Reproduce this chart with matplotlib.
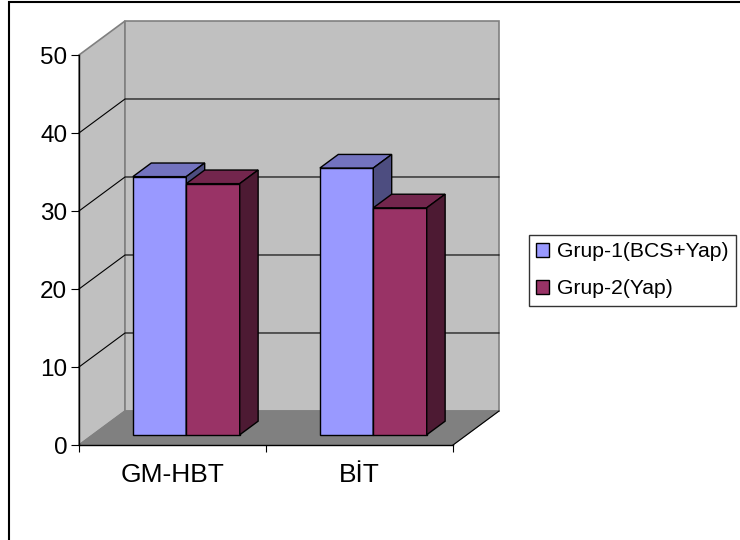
import matplotlib
matplotlib.use("Agg")
import matplotlib.pyplot as plt
from matplotlib.patches import Polygon, Patch, Rectangle

plt.rcParams['font.family'] = ['Liberation Sans', 'DejaVu Sans']

CATEGORIES = ["GM-HBT", "BİT"]
SERIES = ["Grup-1(BCS+Yap)", "Grup-2(Yap)"]
GRUP1 = [33.1, 34.2]
GRUP2 = [32.2, 29.1]
VALUES = [GRUP1, GRUP2]
Y_TICKS = [0, 10, 20, 30, 40, 50]

# face colours: front, top, side
FACES = [("#9999FF", "#7373BF", "#4D4D80"),
         ("#993366", "#73264D", "#4D1A33")]
WALL = "#C0C0C0"
FLOOR = "#808080"

# oblique depth, in data units for a full step back
KX, KY = 0.246, 4.36
BAR_W = 1 / 3.5          # gap width 150%
Z0, Z1 = 0.3, 0.7        # bar depth range
YMAX = 50

def P(x, y, z):
    return (x + z * KX, y + z * KY)

def poly(ax, pts, fc, ec, lw=0.8, zo=1):
    ax.add_patch(Polygon(pts, closed=True, facecolor=fc, edgecolor=ec,
                         linewidth=lw, zorder=zo, clip_on=False,
                         joinstyle='miter'))

fig = plt.figure(figsize=(7.4, 5.4), dpi=100)
ax = fig.add_axes([79/740, 95/540, 374/740, 390/540])
ncat = len(CATEGORIES)
ax.set_xlim(0, ncat)
ax.set_ylim(0, YMAX)
ax.patch.set_visible(False)

# walls and floor
poly(ax, [P(0, 0, 0), P(0, YMAX, 0), P(0, YMAX, 1), P(0, 0, 1)], WALL, FLOOR, 1.2)
poly(ax, [P(0, 0, 1), P(0, YMAX, 1), P(ncat, YMAX, 1), P(ncat, 0, 1)], WALL, FLOOR, 1.2)
poly(ax, [P(0, 0, 0), P(ncat, 0, 0), P(ncat, 0, 1), P(0, 0, 1)], FLOOR, FLOOR, 0.8)
ax.plot(*zip(P(ncat, 0, 0), P(ncat, 0, 1)), color="black", lw=0.8,
        clip_on=False, zorder=1.5)

# gridlines on the back and left walls
for v in Y_TICKS[1:-1]:
    ax.plot(*zip(P(0, v, 0), P(0, v, 1), P(ncat, v, 1)), color="black",
            lw=0.8, clip_on=False, zorder=1.2)

# bars
for i in range(ncat):
    for j, vals in enumerate(VALUES):
        v = vals[i]
        front, top, side = FACES[j]
        x0 = i + (1 - BAR_W * len(VALUES)) / 2 + j * BAR_W
        x1 = x0 + BAR_W
        zo = 3 + i * 2 + j
        poly(ax, [P(x0, 0, Z0), P(x1, 0, Z0), P(x1, v, Z0), P(x0, v, Z0)],
             front, "black", 1.0, zo)
        poly(ax, [P(x0, v, Z0), P(x1, v, Z0), P(x1, v, Z1), P(x0, v, Z1)],
             top, "black", 1.0, zo)
        poly(ax, [P(x1, 0, Z0), P(x1, v, Z0), P(x1, v, Z1), P(x1, 0, Z1)],
             side, "black", 1.0, zo)

# axes
for s in ("top", "right"):
    ax.spines[s].set_visible(False)
ax.spines["left"].set_bounds(0, YMAX)
ax.spines["bottom"].set_bounds(0, ncat)
for s in ("left", "bottom"):
    ax.spines[s].set_color("black")
    ax.spines[s].set_linewidth(1.0)
    ax.spines[s].set_zorder(2)

ax.set_yticks(Y_TICKS)
ax.tick_params(axis="y", length=5.5, width=0.8, pad=3, labelsize=17.5)
ax.set_xticks(range(ncat + 1), labels=[""] * (ncat + 1))
ax.set_xticks([k + 0.5 for k in range(ncat)], labels=CATEGORIES, minor=True)
ax.tick_params(axis="x", which="major", length=5, width=0.8)
ax.tick_params(axis="x", which="minor", length=0, pad=13, labelsize=19)

# legend
handles = [Patch(facecolor=FACES[j][0], edgecolor="black", linewidth=1.0)
           for j in range(len(SERIES))]
leg = fig.legend(handles, SERIES, loc="upper left",
                 bbox_to_anchor=(529/740, 1 - 235/540), fontsize=15.2,
                 frameon=True, fancybox=False, handlelength=0.6,
                 handleheight=0.6, handletextpad=0.4, labelspacing=0.85,
                 borderpad=0.35, borderaxespad=0)
leg.get_frame().set_edgecolor("black")
leg.get_frame().set_linewidth(1.0)

# chart area border
fig.patches.append(Rectangle((9/740, -0.1), 1.2, 1.1 - 1.5/540,
                             transform=fig.transFigure, fill=False,
                             edgecolor="black", linewidth=1.5))

fig.savefig("out.png", dpi=100)
